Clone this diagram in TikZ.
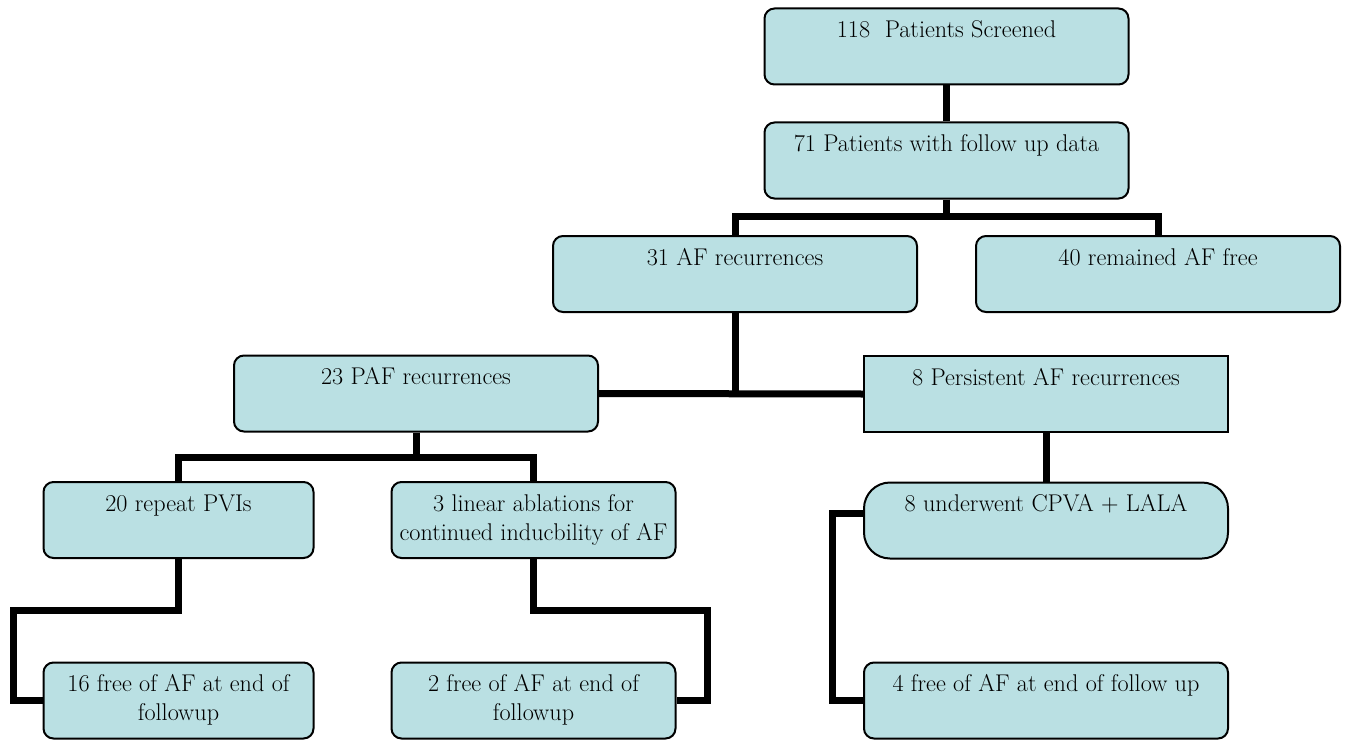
\documentclass[tikz,border=0pt]{standalone}
\definecolor{boxfill}{RGB}{186,224,227}
\tikzset{
  box/.style={draw=black, fill=boxfill, line width=2pt, rounded corners=10pt,
    minimum width=364pt, minimum height=76pt, inner sep=0pt, align=center,
    font=\rmfamily\fontsize{24.2}{29}\selectfont},
  smallbox/.style={box, minimum width=270pt},
  midbox/.style={box, minimum width=284pt},
  link/.style={line width=7pt, draw=black}
}
\begin{document}
\begin{tikzpicture}[x=1pt,y=-1pt]
\useasboundingbox (0,0) rectangle (1348,741);
\coordinate (j1) at (946.5,216);
\coordinate (j3) at (416,457);
\coordinate (k1) at (13,610);
\coordinate (k2) at (707,610);
\coordinate (k3) at (832,600);
% nodes
\node[box] (b1) at (946.5,46.5) {\strut 118\ \ Patients Screened\\\strut};
\node[box] (b2) at (946.5,160.5) {\strut 71 Patients with follow up data\\\strut};
\node[box] (b3) at (735,274) {\strut 31 AF recurrences\\\strut};
\node[box] (b4) at (1158,274) {\strut 40 remained AF free\\\strut};
\node[box] (b5) at (416,393.5) {\strut 23 PAF recurrences\\\strut};
\node[box, rounded corners=0pt] (b6) at (1046,394) {\strut 8 Persistent AF recurrences\\\strut};
\node[smallbox] (b7) at (178.5,520) {\strut 20 repeat PVIs\\\strut};
\node[midbox] (b8) at (533.5,520) {\strut 3 linear ablations for\\\strut continued inducbility of AF};
\node[box, rounded corners=26pt] (b9) at (1046,520.5) {\strut 8 underwent CPVA + LALA\\\strut};
\node[smallbox] (b10) at (178.5,700.5) {\strut 16 free of AF at end of\\\strut followup};
\node[midbox] (b11) at (533.5,700.5) {\strut 2 free of AF at end of\\\strut followup};
\node[box] (b12) at (1046,700.5) {\strut 4 free of AF at end of follow up\\\strut};
% links
\draw[link] (b1.south) -- (b2.north);
\draw[link] (b2.south) -- (j1);
\draw[link] (b3.north) |- (j1) -| (b4.north);
\draw[link] (b3.south) -- (b3.south |- b5.east);
\draw[link] (b5.east) -- (b6.west);
\draw[link] (b5.south) -- (j3);
\draw[link] (b7.north) |- (j3) -| (b8.north);
\draw[link] (b6.south) -- (b9.north);
\draw[link] (b7.south) |- (k1) |- (b10.west);
\draw[link] (b8.south) |- (k2) |- (b11.east);
\draw[link] ([yshift=7pt]b9.west) -| (k3) |- (b12.west);
\end{tikzpicture}
\end{document}
